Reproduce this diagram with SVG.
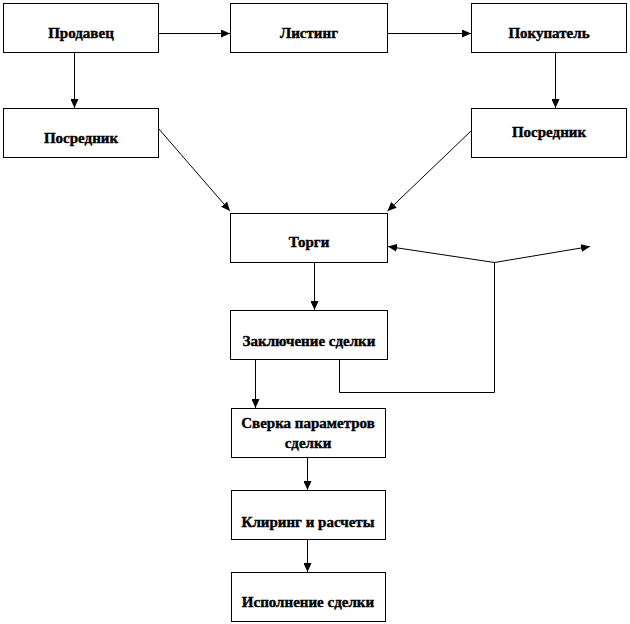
<svg xmlns="http://www.w3.org/2000/svg" width="630" height="624" viewBox="0 0 630 624">
<style>
.box{fill:#fff;stroke:#000;stroke-width:1}
.lbl{font-family:"Liberation Serif","Times New Roman",serif;font-weight:bold;font-size:15px;fill:#000;stroke:#000;stroke-width:0.4;text-anchor:middle}
.c{fill:none;stroke:#000;stroke-width:1}
</style>
<defs>
<marker id="ah" markerUnits="userSpaceOnUse" markerWidth="10" markerHeight="8" refX="9" refY="4" orient="auto-start-reverse">
<path d="M0,0 L9,4 L0,8 Z" fill="#000"/>
</marker>
</defs>
<rect width="630" height="624" fill="#fff"/>
<g id="connectors">
<path class="c" d="M158.5,33.5 H230" marker-end="url(#ah)"/>
<path class="c" d="M387.5,33.5 H471" marker-end="url(#ah)"/>
<path class="c" d="M74.5,52.5 V108" marker-end="url(#ah)"/>
<path class="c" d="M555.5,52.5 V108" marker-end="url(#ah)"/>
<path class="c" d="M158.5,128.5 L230,211" marker-end="url(#ah)"/>
<path class="c" d="M471.5,130.5 L387.5,211" marker-end="url(#ah)"/>
<path class="c" d="M314.5,262.5 V310" marker-end="url(#ah)"/>
<path class="c" d="M388,246.5 L494.5,262.5 L590,246.5" marker-start="url(#ah)" marker-end="url(#ah)"/>
<path class="c" d="M339.5,359.5 V392.5 H494.5 V262.5"/>
<path class="c" d="M255.5,359.5 V408" marker-end="url(#ah)"/>
<path class="c" d="M307.5,457.5 V490" marker-end="url(#ah)"/>
<path class="c" d="M307.5,539.5 V572" marker-end="url(#ah)"/>
</g>
<g id="seller"><rect class="box" x="3.5" y="3.5" width="155" height="49"/><text class="lbl" x="81" y="38">Продавец</text></g>
<g id="listing"><rect class="box" x="230.5" y="3.5" width="157" height="49"/><text class="lbl" x="309" y="38">Листинг</text></g>
<g id="buyer"><rect class="box" x="471.5" y="3.5" width="155" height="49"/><text class="lbl" x="549" y="38">Покупатель</text></g>
<g id="broker-left"><rect class="box" x="3.5" y="108.5" width="155" height="49"/><text class="lbl" x="81" y="143">Посредник</text></g>
<g id="broker-right"><rect class="box" x="471.5" y="108.5" width="155" height="49"/><text class="lbl" x="549" y="137">Посредник</text></g>
<g id="trading"><rect class="box" x="230.5" y="213.5" width="157" height="49"/><text class="lbl" x="309" y="247">Торги</text></g>
<g id="deal"><rect class="box" x="230.5" y="310.5" width="157" height="49"/><text class="lbl" x="309" y="346">Заключение сделки</text></g>
<g id="reconcile"><rect class="box" x="231.5" y="408.5" width="154" height="49"/><text class="lbl" x="308" y="428">Сверка параметров</text><text class="lbl" x="308" y="448">сделки</text></g>
<g id="clearing"><rect class="box" x="231.5" y="490.5" width="154" height="49"/><text class="lbl" x="308" y="527">Клиринг и расчеты</text></g>
<g id="execution"><rect class="box" x="231.5" y="572.5" width="154" height="49"/><text class="lbl" x="308" y="607">Исполнение сделки</text></g>
</svg>
